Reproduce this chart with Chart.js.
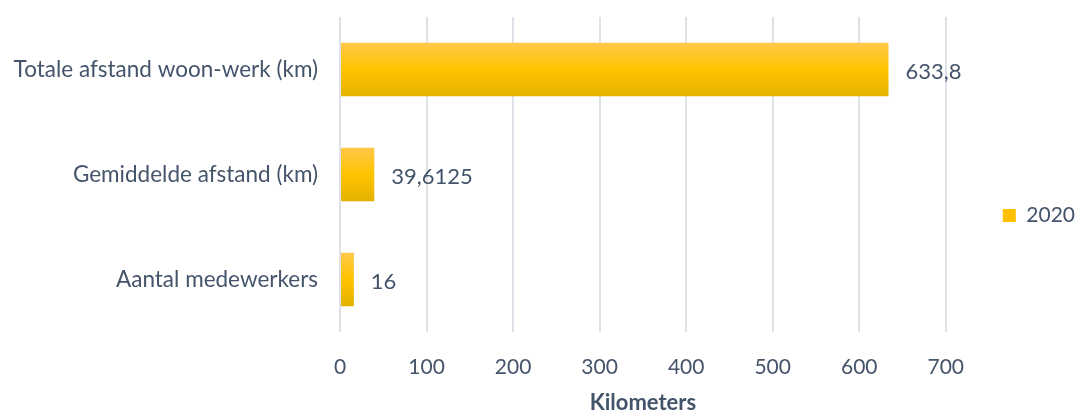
<!DOCTYPE html>
<html>
<head>
<meta charset="utf-8">
<script src="https://cdn.jsdelivr.net/npm/chart.js@4"></script>
<style>
  html, body { margin: 0; padding: 0; background: #fff; }
  #wrap { width: 1075px; height: 410px; }
</style>
</head>
<body>
<div id="wrap"><canvas id="myChart"></canvas></div>
<script>
var categories = ['Totale afstand woon-werk (km)', 'Gemiddelde afstand (km)', 'Aantal medewerkers'];
var seriesName = '2020';
var values2020 = [633.8, 39.6125, 16];
var xTicks = [0, 100, 200, 300, 400, 500, 600, 700];
var axisTitle = 'Kilometers';

var textColor = '#44546A';
var fontFamily = 'Lato, "Open Sans", sans-serif';
var fontSize = 22;

function barGradient(context) {
    var chart = context.chart;
    var yScale = chart.scales.y;
    if (!yScale || context.dataIndex === undefined) return '#FFC000';
    var meta = chart.getDatasetMeta(context.datasetIndex);
    var bar = meta.data[context.dataIndex];
    var center = yScale.getPixelForValue(context.dataIndex);
    var half = bar && bar.height ? bar.height / 2 : 27;
    var g = chart.ctx.createLinearGradient(0, center - half, 0, center + half);
    g.addColorStop(0, '#FFC84A');
    g.addColorStop(0.5, '#FFC400');
    g.addColorStop(1, '#E2B200');
    return g;
}

// waarde-labels achter de balken
var valueLabels = {
    id: 'valueLabels',
    afterDatasetsDraw: function (chart) {
        var ctx = chart.ctx;
        var meta = chart.getDatasetMeta(0);
        ctx.save();
        ctx.fillStyle = textColor;
        ctx.font = fontSize + 'px ' + fontFamily;
        ctx.textAlign = 'left';
        ctx.textBaseline = 'middle';
        meta.data.forEach(function (bar, i) {
            var txt = String(values2020[i]).replace('.', ',');
            ctx.fillText(txt, bar.x + 17, bar.y + 2);
        });
        ctx.restore();
    }
};

var ctx = document.getElementById('myChart').getContext('2d');
var myChart = new Chart(ctx, {
    type: 'bar',
    data: {
        labels: categories,
        datasets: [{
            label: seriesName,
            data: values2020,
            backgroundColor: barGradient,
            borderWidth: 0,
            categoryPercentage: 1,
            barPercentage: 0.51
        }]
    },
    options: {
        indexAxis: 'y',
        responsive: true,
        maintainAspectRatio: false,
        animation: false,
        layout: { padding: { top: 17, right: -10, bottom: -4, left: 0 } },
        scales: {
            x: {
                min: 0,
                max: 700,
                afterBuildTicks: function (axis) {
                    axis.ticks = xTicks.map(function (v) { return { value: v }; });
                },
                afterFit: function (axis) { axis.paddingLeft = 0; axis.paddingRight = 0; },
                grid: { color: '#DEE1E8', lineWidth: 2, drawTicks: false },
                border: { display: false },
                ticks: { color: textColor, font: { family: fontFamily, size: 21, lineHeight: 1 }, padding: 25 },
                title: {
                    display: true,
                    text: axisTitle,
                    color: textColor,
                    font: { family: fontFamily, size: 22, weight: 'bold', lineHeight: 1 },
                    padding: { top: -11, bottom: 0 }
                }
            },
            y: {
                afterFit: function (axis) { axis.width = 340; axis.paddingTop = 0; axis.paddingBottom = 0; },
                grid: { display: false, drawTicks: false },
                border: { display: false },
                ticks: { color: textColor, font: { family: fontFamily, size: 22.5 }, padding: 22 }
            }
        },
        plugins: {
            legend: {
                position: 'right',
                labels: {
                    color: textColor,
                    font: { family: fontFamily, size: 21 },
                    boxWidth: 13,
                    boxHeight: 13,
                    padding: 57,
                    generateLabels: function (chart) {
                        return [{ text: seriesName, fillStyle: '#FFC000', strokeStyle: '#FFC000', lineWidth: 0, fontColor: textColor, datasetIndex: 0 }];
                    }
                }
            },
            tooltip: { enabled: false }
        }
    },
    plugins: [valueLabels]
});
</script>
</body>
</html>
